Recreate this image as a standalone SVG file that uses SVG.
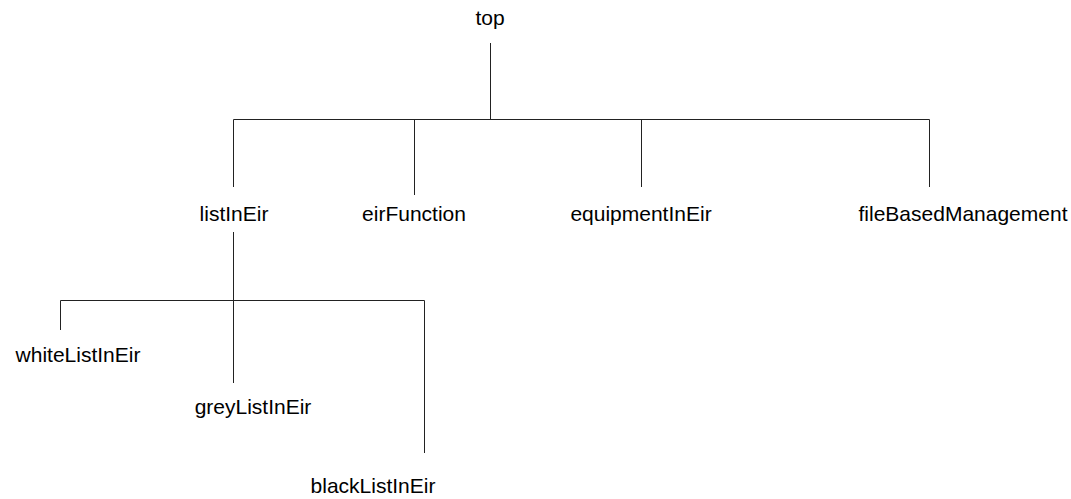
<svg xmlns="http://www.w3.org/2000/svg" width="1071" height="499" viewBox="0 0 1071 499">
<style>
.c{stroke:#222;stroke-width:1;fill:none}
.t{font-family:"Liberation Sans",Arial,sans-serif;font-size:21px;fill:#000;text-anchor:middle}
</style>
<rect width="1071" height="499" fill="#fff"/>
<g id="connectors">
<path class="c" d="M490.5 43V119.5M233.5 119.5H929.5M233.5 119.5V187M414.5 119.5V195M641.5 119.5V187M929.5 119.5V187"/>
<path class="c" d="M233.5 232V383M60.5 300.5H424.5M60.5 300.5V330M424.5 300.5V453"/>
</g>
<g id="top"><text class="t" x="490" y="25">top</text></g>
<g id="listInEir"><text class="t" x="234" y="221">listInEir</text></g>
<g id="eirFunction"><text class="t" x="414" y="221">eirFunction</text></g>
<g id="equipmentInEir"><text class="t" x="641" y="221">equipmentInEir</text></g>
<g id="fileBasedManagement"><text class="t" x="963" y="221">fileBasedManagement</text></g>
<g id="whiteListInEir"><text class="t" x="78" y="362">whiteListInEir</text></g>
<g id="greyListInEir"><text class="t" x="253" y="414">greyListInEir</text></g>
<g id="blackListInEir"><text class="t" x="373" y="493">blackListInEir</text></g>
</svg>
